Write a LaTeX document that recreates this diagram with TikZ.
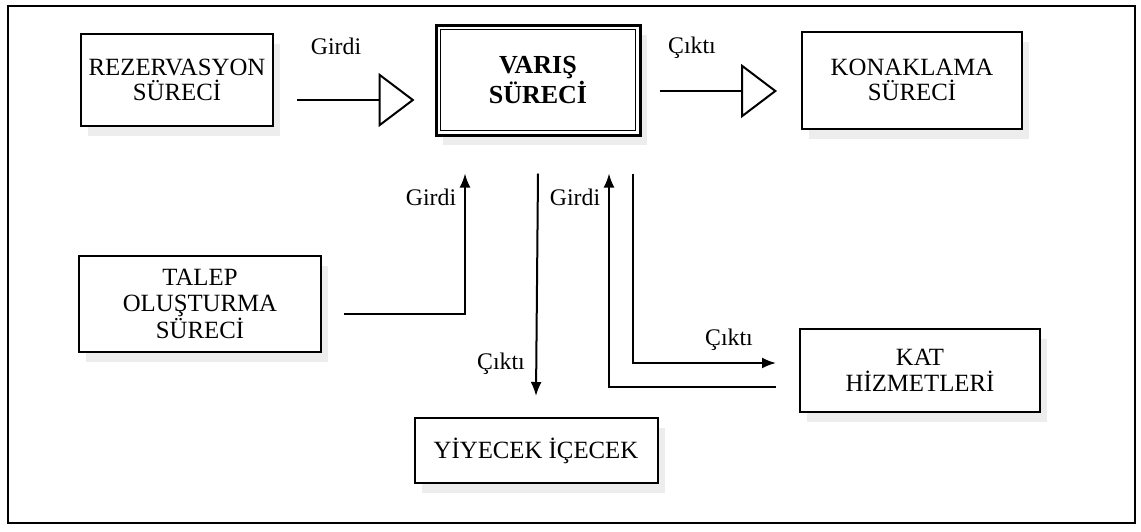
\documentclass[tikz,border=0pt]{standalone}
\usepackage{fontspec}
\setmainfont{Liberation Serif}
\usetikzlibrary{arrows.meta,shadows}

\tikzset{
  box/.style={draw, line width=1pt, fill=white, inner sep=0pt, align=center,
    font=\fontsize{12.4}{12.8}\selectfont,
    drop shadow={fill=black!20, opacity=0.35, shadow xshift=3.5pt, shadow yshift=-5pt}},
  lbl/.style={inner sep=0pt},
  hollow/.style={line width=1pt, -{Triangle[open,length=18pt,width=27pt,line width=1pt]}}
}

\begin{document}
\begin{tikzpicture}[x=0.5pt, y=-0.5pt, line width=1pt, >={Latex[length=7pt,width=5.5pt]},
  font=\fontsize{11.9}{12.5}\selectfont]

\useasboundingbox (0,0) rectangle (1141,531);
\draw[line width=1.1pt] (8,6) rectangle (1135,523);

% process boxes
\node[box, minimum width=96pt, minimum height=46pt]   (rez)   at (177,80)   {REZERVASYON\\SÜRECİ};
\node[box, line width=1.5pt, minimum width=102pt, minimum height=55pt, font=\fontsize{13}{13.5}\selectfont\bfseries]
                                                     (varis) at (538,80)   {VARIŞ\\SÜRECİ};
\draw[line width=0.8pt] ([shift={(3pt,-3pt)}]varis.north west) rectangle ([shift={(-3pt,3pt)}]varis.south east);
\node[box, minimum width=110pt, minimum height=48.5pt] (kon)   at (912,80)   {KONAKLAMA\\SÜRECİ};
\node[box, minimum width=121pt, minimum height=48pt]   (talep) at (200,304)  {TALEP\\OLUŞTURMA\\SÜRECİ};
\node[box, minimum width=121.5pt, minimum height=32.5pt] (yiy) at (536,450.5) {YİYECEK İÇECEK};
\node[box, minimum width=120pt, minimum height=41.5pt] (kat)   at (920,370.5) {KAT\\HİZMETLERİ};

% main flow
\draw[hollow] ([shift={(11.5pt,-10pt)}]rez.east) -- ([shift={(-10pt,-10pt)}]varis.west);
\draw[hollow] ([shift={(9pt,-5.5pt)}]varis.east) -- ([shift={(-12pt,-5.5pt)}]kon.west);

% side flows
\draw[->] ([shift={(11pt,-5pt)}]talep.east) -| ([shift={(-36.5pt,-18.5pt)}]varis.south);
\draw[->] ([yshift=-18.5pt]varis.south) -- ([yshift=10.5pt]yiy.north);
\draw[->] ([shift={(47.5pt,-18.5pt)}]varis.south) |- ([shift={(-11.5pt,3.75pt)}]kat.west);
\draw[->] ([shift={(-11.5pt,-8.25pt)}]kat.west) -| ([shift={(35.5pt,-18.5pt)}]varis.south);

% labels
\node[lbl] (g1) at (336,46)  {Girdi};
\node[lbl] (c1) at (692,48)  {Çıktı};
\node[lbl] (g2) at (431,197) {Girdi};
\node[lbl] (g3) at (575,197) {Girdi};
\node[lbl] (c2) at (501,364) {Çıktı};
\node[lbl] (c3) at (729,340) {Çıktı};

\end{tikzpicture}
\end{document}
